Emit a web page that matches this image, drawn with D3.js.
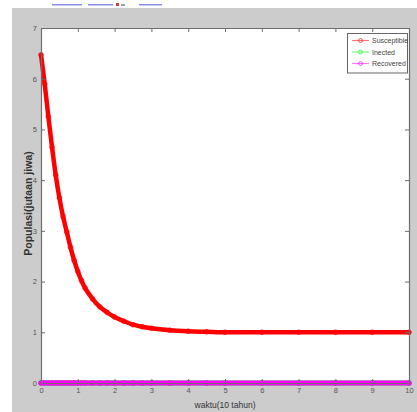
<!DOCTYPE html>
<html>
<head>
<meta charset="utf-8">
<script src="https://cdn.jsdelivr.net/npm/d3@7"></script>
<style>
  html, body { margin: 0; padding: 0; background: #fff; }
  svg { display: block; }
  text { font-family: "Liberation Sans", Arial, sans-serif; }
</style>
</head>
<body>
<div id="chart"></div>
<script>
// waktu (10 tahun) and populasi
const time = [0, 0.1, 0.2, 0.3, 0.4, 0.5, 0.6, 0.7, 0.8, 0.9, 1.0, 1.1, 1.2, 1.4, 1.6, 1.8, 2.0, 2.25, 2.5, 2.75, 3.0, 3.5, 4.0, 4.5, 5, 6, 7, 8, 9, 10];
const susceptible = [6.47, 5.9, 5.25, 4.65, 4.1, 3.65, 3.28, 2.98, 2.68, 2.42, 2.2, 2.02, 1.87, 1.66, 1.5, 1.39, 1.3, 1.22, 1.15, 1.11, 1.08, 1.04, 1.02, 1.01, 1.0, 1.0, 1.0, 1.0, 1.0, 1.0];
const infected = [0, 0, 0, 0, 0, 0, 0, 0, 0, 0, 0, 0, 0, 0, 0, 0, 0, 0, 0, 0, 0, 0, 0, 0, 0, 0, 0, 0, 0, 0];
const recovered = [0, 0, 0, 0, 0, 0, 0, 0, 0, 0, 0, 0, 0, 0, 0, 0, 0, 0, 0, 0, 0, 0, 0, 0, 0, 0, 0, 0, 0, 0];
const seriesNames = ["Susceptible", "Inected", "Recovered"];
const seriesColors = ["#ff0000", "#00ff00", "#ff00ff"];
const xTicks = [0, 1, 2, 3, 4, 5, 6, 7, 8, 9, 10];
const yTicks = [0, 1, 2, 3, 4, 5, 6, 7];

const width = 417, height = 412;
const plot = {left: 41, right: 409, top: 28, bottom: 383};

const svg = d3.select("#chart").append("svg")
    .attr("width", width).attr("height", height);

// figure window background
svg.append("rect").attr("x", 12).attr("y", 8)
    .attr("width", width - 12).attr("height", height - 8)
    .attr("fill", "#cccccc");

// bits of page header links cut off at the top
const header = [[52, 82, "#8c8cf0"], [88, 113, "#8c8cf0"], [139, 162, "#8c8cf0"]];
header.forEach(h => svg.append("rect").attr("x", h[0]).attr("y", 4)
    .attr("width", h[1] - h[0]).attr("height", 1.5).attr("fill", h[2]));
svg.append("rect").attr("x", 116).attr("y", 3).attr("width", 3).attr("height", 3).attr("fill", "#d04040");
svg.append("rect").attr("x", 121).attr("y", 4).attr("width", 4).attr("height", 2).attr("fill", "#a0a0a0");

const x = d3.scaleLinear().domain([0, 10]).range([plot.left, plot.right]);
const y = d3.scaleLinear().domain([0, 7]).range([plot.bottom, plot.top]);

svg.append("rect")
    .attr("x", plot.left).attr("y", plot.top)
    .attr("width", plot.right - plot.left).attr("height", plot.bottom - plot.top)
    .attr("fill", "#fff");

const data = [susceptible, infected, recovered].map(vals => time.map((t, i) => [t, vals[i]]));

const line = d3.line().x(d => x(d[0])).y(d => y(d[1])).curve(d3.curveMonotoneX);

const g = svg.append("g");
data.forEach((ser, k) => {
  g.append("path").datum(ser)
      .attr("d", line)
      .attr("fill", "none")
      .attr("stroke", seriesColors[k])
      .attr("stroke-width", k === 0 ? 4.5 : 5)
      .attr("stroke-linecap", "round");
  g.selectAll(null).data(ser).enter().append("circle")
      .attr("cx", d => x(d[0])).attr("cy", d => y(d[1]))
      .attr("r", 2.4)
      .attr("fill", "none")
      .attr("stroke", seriesColors[k])
      .attr("stroke-opacity", 0.7)
      .attr("stroke-width", 1);
});

// axes (box style, ticks inward)
const axisColor = "#6e6e6e";
const fmt = d3.format("d");
const xAxis = svg.append("g").attr("transform", `translate(0,${plot.bottom})`)
    .call(d3.axisBottom(x).tickValues(xTicks).tickFormat(fmt).tickSizeInner(-4).tickSizeOuter(0).tickPadding(5));
const xTop = svg.append("g").attr("transform", `translate(0,${plot.top})`)
    .call(d3.axisTop(x).tickValues(xTicks).tickSizeInner(-4).tickSizeOuter(0).tickFormat(""));
const yAxis = svg.append("g").attr("transform", `translate(${plot.left},0)`)
    .call(d3.axisLeft(y).tickValues(yTicks).tickFormat(fmt).tickSizeInner(-4).tickSizeOuter(0).tickPadding(4));
const yRight = svg.append("g").attr("transform", `translate(${plot.right},0)`)
    .call(d3.axisRight(y).tickValues(yTicks).tickSizeInner(-4).tickSizeOuter(0).tickFormat(""));

[xAxis, xTop, yAxis, yRight].forEach(a => {
  a.selectAll("path").attr("stroke", axisColor).attr("stroke-width", 1.2);
  a.selectAll("line").attr("stroke", axisColor);
  a.selectAll("text").attr("fill", "#555").style("font-size", "7.5px")
      .style("font-family", "'Liberation Sans Narrow', 'Liberation Sans', Arial, sans-serif");
});

// axis titles
svg.append("text")
    .attr("x", (plot.left + plot.right) / 2).attr("y", 408)
    .attr("text-anchor", "middle")
    .attr("fill", "#333")
    .style("font-size", "8.5px")
    .style("font-family", "'Liberation Sans Narrow', 'Liberation Sans', Arial, sans-serif")
    .text("waktu(10 tahun)");

svg.append("text")
    .attr("transform", `translate(32,${(plot.top + plot.bottom) / 2 - 2}) rotate(-90)`)
    .attr("text-anchor", "middle")
    .attr("fill", "#333")
    .style("font-size", "10.5px")
    .style("font-weight", "bold")
    .text("Populasi(jutaan jiwa)");

// legend
const legend = svg.append("g");
legend.append("rect")
    .attr("x", 347.5).attr("y", 33.5).attr("width", 60).attr("height", 39.5)
    .attr("fill", "#fff").attr("stroke", "#666").attr("stroke-width", 1);
seriesNames.forEach((name, k) => {
  const ly = 40.5 + k * 11.5;
  legend.append("line").attr("x1", 352).attr("x2", 369).attr("y1", ly).attr("y2", ly)
      .attr("stroke", seriesColors[k]).attr("stroke-opacity", 0.55).attr("stroke-width", 1.2);
  legend.append("circle").attr("cx", 360.5).attr("cy", ly).attr("r", 2)
      .attr("fill", "none").attr("stroke", seriesColors[k]).attr("stroke-opacity", 0.6);
  legend.append("text").attr("x", 372).attr("y", ly + 2.5)
      .attr("fill", "#444")
      .style("font-size", "7px")
      .style("font-family", "'Liberation Sans Narrow', 'Liberation Sans', Arial, sans-serif")
      .text(name);
});
</script>
</body>
</html>
